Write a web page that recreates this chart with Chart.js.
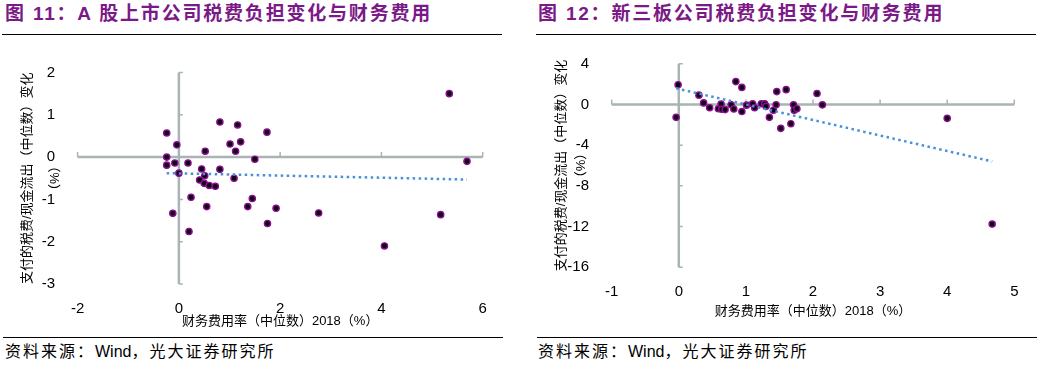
<!DOCTYPE html>
<html lang="zh">
<head>
    <meta charset="UTF-8" />
    <title>税费负担变化与财务费用</title>
    <style>
        body { margin: 0; width: 1041px; height: 368px; background: #fff; position: relative; overflow: hidden;
               font-family: "Liberation Sans", "Noto Sans CJK SC", sans-serif; }
        .title { position: absolute; top: 2px; font-size: 19px; line-height: 24px; font-weight: bold; color: #7b1a87;
                 letter-spacing: 1.8px; white-space: nowrap; }
        .rule { position: absolute; height: 0; width: 500px; border-top: 1.5px solid #000; }
        .source { position: absolute; top: 342px; font-size: 16px; line-height: 20px; letter-spacing: 2px; white-space: nowrap; }
        .source span { letter-spacing: 0; }
        canvas { position: absolute; }
    </style>
</head>
<body>
    <script src="https://cdn.jsdelivr.net/npm/chart.js"></script>

    <div class="title" style="left: 5px;">图 11：A 股上市公司税费负担变化与财务费用</div>
    <div class="title" style="left: 538px;">图 12：新三板公司税费负担变化与财务费用</div>
    <div class="rule" style="left: 2px; top: 34px;"></div>
    <div class="rule" style="left: 536px; top: 34px;"></div>

    <canvas id="chartA" width="510" height="292" style="left: 0; top: 40px;"></canvas>
    <canvas id="chartB" width="521" height="282" style="left: 520px; top: 40px;"></canvas>

    <div class="rule" style="left: 3px; top: 337px;"></div>
    <div class="rule" style="left: 537px; top: 337px;"></div>
    <div class="source" style="left: 5px;">资料来源：<span>Wind</span>，光大证券研究所</div>
    <div class="source" style="left: 538px;">资料来源：<span>Wind</span>，光大证券研究所</div>

    <script>
        "use strict";
        // 图11: A股
        const xTicksA = [-2, 0, 2, 4, 6];
        const yTicksA = [-3, -2, -1, 0, 1, 2];
        const aShareX = [-0.24, -0.04, -0.24, -0.24, -0.08, 0.00, 0.18, 0.45, 0.51, 0.41, 0.50, 0.60,
            0.72, 0.24, 0.55, -0.12, 0.20, 0.52, 0.81, 1.16, 1.01, 1.22, 1.12, 0.81, 1.09, 1.50, 1.45,
            1.36, 1.74, 1.92, 1.75, 2.76, 4.06, 5.17, 5.34, 5.69];
        const aShareY = [0.57, 0.29, 0.00, -0.19, -0.14, -0.38, -0.14, -0.28, -0.44, -0.54, -0.62, -0.67,
            -0.69, -0.95, -1.17, -1.33, -1.76, 0.14, 0.83, 0.76, 0.31, 0.36, 0.14, -0.29, -0.50, -0.05, -0.98,
            -1.17, 0.59, -1.21, -1.57, -1.32, -2.10, -1.36, 1.50, -0.10];
        const trendAX = [-0.24, 5.69];
        const trendAY = [-0.38, -0.53];

        // 图12: 新三板
        const xTicksB = [-1, 0, 1, 2, 3, 4, 5];
        const yTicksB = [-16, -12, -8, -4, 0, 4];
        const neeqX = [-0.01, -0.04, 0.30, 0.37, 0.46, 0.59, 0.63, 0.64, 0.69, 0.78, 0.82, 0.85, 0.94,
            0.94, 1.01, 1.10, 1.13, 1.23, 1.28, 1.30, 1.35, 1.41, 1.45, 1.46, 1.52, 1.60, 1.67, 1.71,
            1.72, 1.76, 2.06, 2.14, 4.00, 4.67];
        const neeqY = [1.93, -1.27, 0.91, 0.15, -0.32, -0.42, 0.03, -0.48, -0.51, -0.04, -0.45, 2.24, 1.67,
            -0.70, -0.07, 0.06, -0.32, 0.06, 0.06, -0.19, -1.27, -0.57, -0.04, 1.26, -2.35, 1.45, -1.90, -0.04,
            -0.57, -0.42, 1.07, -0.04, -1.37, -11.75];
        const trendBX = [-0.04, 4.67];
        const trendBY = [1.58, -5.60];

        const yTitle = "支付的税费/现金流出（中位数）变化";
        const xTitle = "财务费用率（中位数）2018（%）";

        const axisGray = "#aab4b4";
        const toPoints = (xs, ys) => xs.map((x, i) => ({ x: x, y: ys[i] }));

        Chart.defaults.font.family = "'Liberation Sans', 'Noto Sans CJK SC', sans-serif";
        Chart.defaults.color = "#000";

        // axes crossing at zero, with short tick marks
        const crossAxes = {
            id: "crossAxes",
            beforeDatasetsDraw(chart) {
                const { ctx, scales: { x, y } } = chart;
                const x0 = x.getPixelForValue(0);
                const y0 = y.getPixelForValue(0);
                ctx.save();
                ctx.strokeStyle = axisGray;
                ctx.lineWidth = 2.5;
                ctx.beginPath();
                ctx.moveTo(x.left, y0);
                ctx.lineTo(x.right, y0);
                ctx.moveTo(x0, y.top);
                ctx.lineTo(x0, y.bottom);
                ctx.stroke();
                ctx.lineWidth = 1.5;
                ctx.beginPath();
                x.ticks.forEach((t) => {
                    const px = x.getPixelForValue(t.value);
                    ctx.moveTo(px, y0);
                    ctx.lineTo(px, y0 - 5);
                });
                y.ticks.forEach((t) => {
                    const py = y.getPixelForValue(t.value);
                    ctx.moveTo(x0, py);
                    ctx.lineTo(x0 + 4, py);
                });
                ctx.stroke();
                ctx.restore();
            },
        };

        function makeChart(id, pts, trend, xTicks, yTicks, box) {
            return new Chart(document.getElementById(id), {
                type: "scatter",
                data: {
                    datasets: [
                        {
                            type: "line",
                            data: trend,
                            showLine: true,
                            borderColor: "#4a90d9",
                            borderWidth: 2.5,
                            borderDash: [2.5, 3.5],
                            pointRadius: 0,
                            fill: false,
                            order: 0,
                        },
                        {
                            data: pts,
                            pointRadius: 3.1,
                            backgroundColor: "#0c0010",
                            borderColor: "#8a0f8f",
                            borderWidth: 1.4,
                            order: 1,
                        },
                    ],
                },
                options: {
                    responsive: false,
                    animation: false,
                    layout: { padding: { left: 0, top: box.top, right: box.right, bottom: 0 } },
                    plugins: { legend: { display: false }, tooltip: { enabled: false } },
                    scales: {
                        x: {
                            type: "linear",
                            min: xTicks[0],
                            max: xTicks[xTicks.length - 1],
                            ticks: { stepSize: xTicks[1] - xTicks[0], font: { size: 15 }, padding: 8 },
                            grid: { display: false },
                            border: { display: false },
                            title: { display: true, text: xTitle, font: { size: 13 }, padding: { top: 0, bottom: box.xtb } },
                            afterFit: (s) => { s.height = box.xh; },
                        },
                        y: {
                            min: yTicks[0],
                            max: yTicks[yTicks.length - 1],
                            ticks: { stepSize: yTicks[1] - yTicks[0], font: { size: 15 }, padding: box.ytp },
                            grid: { display: false },
                            border: { display: false },
                            title: {
                                display: true,
                                text: [yTitle, "（%）"],
                                font: { size: 13, lineHeight: box.ylh },
                                padding: { top: box.ytt, bottom: 0 },
                            },
                            afterFit: (s) => { s.width = box.yw; },
                        },
                    },
                },
                plugins: [crossAxes],
            });
        }

        makeChart("chartA", toPoints(aShareX, aShareY), toPoints(trendAX, trendAY), xTicksA, yTicksA,
            { top: 32.5, right: 27.3, xh: 48, xtb: 2.5, yw: 77.6, ytp: 14.6, ylh: 28 / 13, ytt: 13.5 });
        makeChart("chartB", toPoints(neeqX, neeqY), toPoints(trendBX, trendBY), xTicksB, yTicksB,
            { top: 16.7, right: 26.7, xh: 54.7, xtb: 2.5, yw: 91.7, ytp: 14.7, ylh: 20 / 13, ytt: 31.7 });
    </script>
</body>
</html>
